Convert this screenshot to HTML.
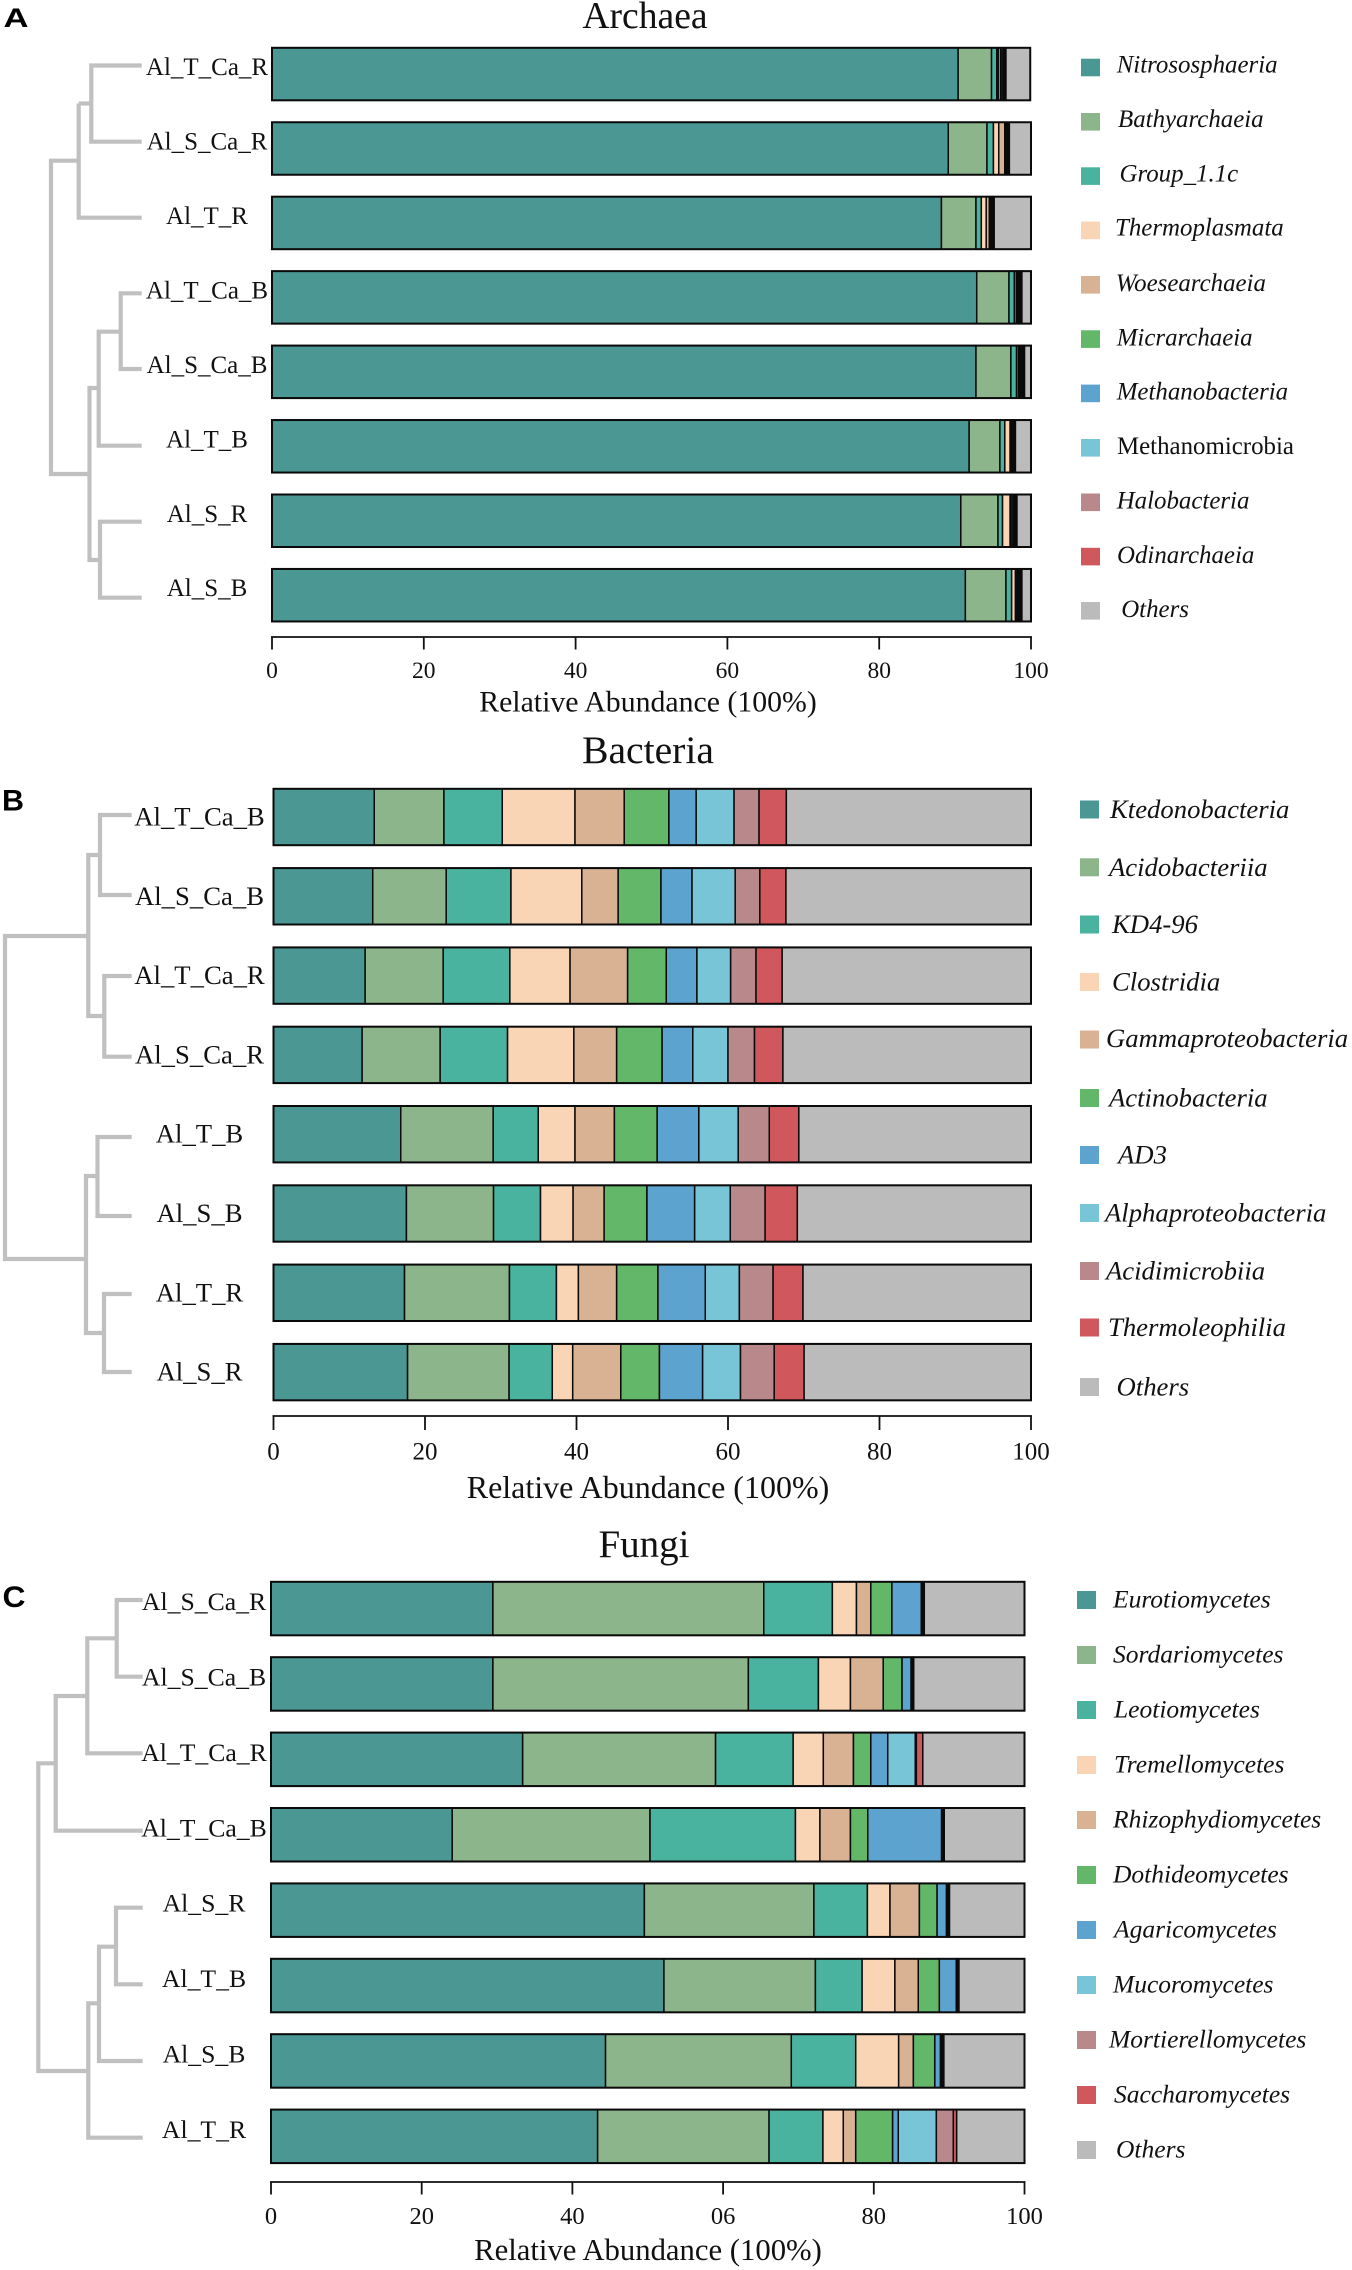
<!DOCTYPE html>
<html lang="en">
<head>
<meta charset="utf-8">
<title>Relative abundance of Archaea, Bacteria and Fungi</title>
<style>
html,body{margin:0;padding:0;background:#fff;}
svg{display:block;}
text{font-family:"Liberation Serif","DejaVu Serif",serif;fill:#111;}
.leg-a text{font-size:24.9px;font-style:italic;}
.leg-b text{font-size:26.7px;font-style:italic;}
.leg-c text{font-size:25.5px;font-style:italic;}
.tree path{fill:none;stroke:#c0c0c0;stroke-width:4.2;stroke-linejoin:miter;}
.letter{font-family:"Liberation Sans",Arial,sans-serif;font-weight:700;fill:#000;}
</style>
</head>
<body>
<svg id="figure" xmlns="http://www.w3.org/2000/svg" width="1352" height="2270" viewBox="0 0 1352 2270">
  <rect x="0" y="0" width="1352" height="2270" fill="#fff"/>

  <text class="letter" x="3.5" y="27" font-size="27" textLength="25" lengthAdjust="spacingAndGlyphs">A</text>
  <text class="letter" x="2" y="810.5" font-size="30" textLength="22" lengthAdjust="spacingAndGlyphs">B</text>
  <text class="letter" x="2.5" y="1607" font-size="30" textLength="23" lengthAdjust="spacingAndGlyphs">C</text>

  <text x="645" y="28" font-size="37.6" text-anchor="middle">Archaea</text>
  <text x="648" y="763" font-size="39.6" text-anchor="middle">Bacteria</text>
  <text x="644" y="1557" font-size="39" text-anchor="middle">Fungi</text>

  <g class="tree">
    <path d="M141.7 65.5H91.3V141.7H141.7"/>
    <path d="M91.3 103.5H78.7"/>
    <path d="M141.7 217.7H78.7V103.5"/>
    <path d="M78.7 160.7H51V474H89.5"/>
    <path d="M98.7 388H89.5V560H100"/>
    <path d="M141.7 293.3H120.7V369H141.7"/>
    <path d="M120.7 331.7H98.7V445.7H141.7"/>
    <path d="M141.7 521.7H100V597.7H141.7"/>
  </g>
  <g class="tree">
    <path d="M131.7 815H100V895H131.7"/>
    <path d="M131.7 976H104.3V1056.7H131.7"/>
    <path d="M100 855H88.3V1016H104.3"/>
    <path d="M88.3 936H5V1259H86"/>
    <path d="M131.7 1137H97.5V1216H131.7"/>
    <path d="M131.7 1294H104V1372H131.7"/>
    <path d="M97.5 1176H86V1333H104"/>
  </g>
  <g class="tree">
    <path d="M142.7 1600H116.7V1676.7H142.7"/>
    <path d="M116.7 1638.3H87.3V1753.3H142.7"/>
    <path d="M87.3 1696H55.7V1830.7H142.7"/>
    <path d="M55.7 1763.3H38.3V2071H88.3"/>
    <path d="M99 2003.3H88.3V2137.7H142.7"/>
    <path d="M116 1946.7H99V2061H142.7"/>
    <path d="M142.7 1907.7H116V1984.3H142.7"/>
  </g>

  <g id="panel-archaea"></g>
  <g id="panel-bacteria"></g>
  <g id="panel-fungi"></g>

  <g class="leg-a">
    <g><rect x="1081" y="58.7" width="19" height="17.6" fill="#4a9794"/><text x="1116.7" y="72.7">Nitrososphaeria</text></g>
    <g><rect x="1081" y="113" width="19" height="17.6" fill="#8db58c"/><text x="1118" y="127">Bathyarchaeia</text></g>
    <g><rect x="1081" y="167.3" width="19" height="17.6" fill="#4ab3a0"/><text x="1119.5" y="181.3">Group_1.1c</text></g>
    <g><rect x="1081" y="221.6" width="19" height="17.6" fill="#f9d5b5"/><text x="1115" y="235.6">Thermoplasmata</text></g>
    <g><rect x="1081" y="276" width="19" height="17.6" fill="#d9b294"/><text x="1115.7" y="291">Woesearchaeia</text></g>
    <g><rect x="1081" y="330.3" width="19" height="17.6" fill="#63b768"/><text x="1116.7" y="345.3">Micrarchaeia</text></g>
    <g><rect x="1081" y="384.6" width="19" height="17.6" fill="#5ca4cf"/><text x="1116.7" y="399.6">Methanobacteria</text></g>
    <g><rect x="1081" y="439" width="19" height="17.6" fill="#78c5d8"/><text x="1117" y="454" style="font-style:normal">Methanomicrobia</text></g>
    <g><rect x="1081" y="493.5" width="19" height="17.6" fill="#b9888b"/><text x="1116.7" y="508.5">Halobacteria</text></g>
    <g><rect x="1081" y="547.8" width="19" height="17.6" fill="#d0585c"/><text x="1117" y="562.8">Odinarchaeia</text></g>
    <g><rect x="1081" y="602" width="19" height="17.6" fill="#bbbbbb"/><text x="1121.2" y="617">Others</text></g>
  </g>

  <g class="leg-b">
    <g><rect x="1080" y="800.5" width="19" height="18" fill="#4a9794"/><text x="1110" y="818">Ktedonobacteria</text></g>
    <g><rect x="1080" y="858.3" width="19" height="18" fill="#8db58c"/><text x="1109" y="875.8">Acidobacteriia</text></g>
    <g><rect x="1080" y="915.5" width="19" height="18" fill="#4ab3a0"/><text x="1112" y="933">KD4-96</text></g>
    <g><rect x="1080" y="973" width="19" height="18" fill="#f9d5b5"/><text x="1112" y="990.5">Clostridia</text></g>
    <g><rect x="1080" y="1030.5" width="19" height="18" fill="#d9b294"/><text x="1106" y="1047">Gammaproteobacteria</text></g>
    <g><rect x="1080" y="1089" width="19" height="18" fill="#63b768"/><text x="1109" y="1106.5">Actinobacteria</text></g>
    <g><rect x="1080" y="1146" width="19" height="18" fill="#5ca4cf"/><text x="1118" y="1163.5">AD3</text></g>
    <g><rect x="1080" y="1204" width="19" height="18" fill="#78c5d8"/><text x="1105" y="1221.5">Alphaproteobacteria</text></g>
    <g><rect x="1080" y="1262" width="19" height="18" fill="#b9888b"/><text x="1106" y="1279.5">Acidimicrobiia</text></g>
    <g><rect x="1080" y="1318.5" width="19" height="18" fill="#d0585c"/><text x="1108" y="1336">Thermoleophilia</text></g>
    <g><rect x="1080" y="1378" width="19" height="18" fill="#bbbbbb"/><text x="1116.5" y="1395.5">Others</text></g>
  </g>

  <g class="leg-c">
    <g><rect x="1077" y="1591" width="19" height="18" fill="#4a9794"/><text x="1113" y="1607.5">Eurotiomycetes</text></g>
    <g><rect x="1077" y="1646" width="19" height="18" fill="#8db58c"/><text x="1113" y="1662.5">Sordariomycetes</text></g>
    <g><rect x="1077" y="1701" width="19" height="18" fill="#4ab3a0"/><text x="1114" y="1717.5">Leotiomycetes</text></g>
    <g><rect x="1077" y="1756" width="19" height="18" fill="#f9d5b5"/><text x="1114" y="1772.5">Tremellomycetes</text></g>
    <g><rect x="1077" y="1811" width="19" height="18" fill="#d9b294"/><text x="1113" y="1827.5">Rhizophydiomycetes</text></g>
    <g><rect x="1077" y="1866" width="19" height="18" fill="#63b768"/><text x="1113" y="1882.5">Dothideomycetes</text></g>
    <g><rect x="1077" y="1921" width="19" height="18" fill="#5ca4cf"/><text x="1114" y="1937.5">Agaricomycetes</text></g>
    <g><rect x="1077" y="1976" width="19" height="18" fill="#78c5d8"/><text x="1113" y="1992.5">Mucoromycetes</text></g>
    <g><rect x="1077" y="2031" width="19" height="18" fill="#b9888b"/><text x="1109" y="2047.5">Mortierellomycetes</text></g>
    <g><rect x="1077" y="2086" width="19" height="18" fill="#d0585c"/><text x="1114" y="2102.5">Saccharomycetes</text></g>
    <g><rect x="1077" y="2141" width="19" height="18" fill="#bbbbbb"/><text x="1116" y="2157.5">Others</text></g>
  </g>
</svg>

<script>
// Shared categories
const tickValues = [0, 20, 40, 60, 80, 100];
const standardTickLabels = ['0', '20', '40', '60', '80', '100'];
const fungiTickLabels = ['0', '20', '40', '06', '80', '100'];
const axisTitle = 'Relative Abundance (100%)';

// Archaea: sample order and taxon shares per sample
const archaeaSamples = ['Al_T_Ca_R', 'Al_S_Ca_R', 'Al_T_R', 'Al_T_Ca_B', 'Al_S_Ca_B', 'Al_T_B', 'Al_S_R', 'Al_S_B'];
const archaeaTaxa = ['Nitrososphaeria', 'Bathyarchaeia', 'Group_1.1c', 'Thermoplasmata', 'Woesearchaeia', 'Micrarchaeia', 'Methanobacteria', 'Methanomicrobia', 'Halobacteria', 'Odinarchaeia', 'Others'];
const archaeaAlTCaR = [90.4, 4.4, 0.7, 0.2, 0.3, 0.2, 0.2, 0.1, 0.1, 0.1, 3.2];
const archaeaAlSCaR = [89.1, 5.1, 0.85, 0.7, 0.8, 0.1, 0.15, 0.15, 0.1, 0.1, 2.85];
const archaeaAlTR = [88.2, 4.55, 0.7, 0.65, 0.4, 0.15, 0.15, 0.15, 0.1, 0.1, 4.85];
const archaeaAlTCaB = [92.85, 4.25, 0.7, 0.25, 0.1, 0.15, 0.15, 0.15, 0.1, 0.1, 1.2];
const archaeaAlSCaB = [92.75, 4.6, 0.75, 0.25, 0.1, 0.15, 0.15, 0.15, 0.15, 0.1, 0.85];
const archaeaAlTB = [91.85, 4.05, 0.65, 0.7, 0.05, 0.15, 0.15, 0.15, 0.1, 0.1, 2.05];
const archaeaAlSR = [90.75, 4.9, 0.6, 1.0, 0.05, 0.2, 0.2, 0.15, 0.15, 0.15, 1.85];
const archaeaAlSB = [91.35, 5.35, 0.75, 0.5, 0.05, 0.2, 0.15, 0.15, 0.15, 0.15, 1.2];

// Bacteria
const bacteriaSamples = ['Al_T_Ca_B', 'Al_S_Ca_B', 'Al_T_Ca_R', 'Al_S_Ca_R', 'Al_T_B', 'Al_S_B', 'Al_T_R', 'Al_S_R'];
const bacteriaTaxa = ['Ktedonobacteria', 'Acidobacteriia', 'KD4-96', 'Clostridia', 'Gammaproteobacteria', 'Actinobacteria', 'AD3', 'Alphaproteobacteria', 'Acidimicrobiia', 'Thermoleophilia', 'Others'];
const bacteriaAlTCaB = [13.3, 9.2, 7.7, 9.6, 6.5, 5.9, 3.6, 5.0, 3.3, 3.6, 32.3];
const bacteriaAlSCaB = [13.1, 9.7, 8.55, 9.35, 4.8, 5.65, 4.1, 5.7, 3.25, 3.45, 32.35];
const bacteriaAlTCaR = [12.1, 10.3, 8.8, 7.95, 7.6, 5.1, 4.05, 4.45, 3.35, 3.45, 32.85];
const bacteriaAlSCaR = [11.7, 10.3, 8.9, 8.75, 5.65, 6.0, 4.05, 4.65, 3.5, 3.75, 32.75];
const bacteriaAlTB = [16.8, 12.2, 5.95, 4.85, 5.2, 5.65, 5.5, 5.2, 4.1, 3.9, 30.65];
const bacteriaAlSB = [17.55, 11.5, 6.2, 4.3, 4.1, 5.65, 6.3, 4.7, 4.6, 4.25, 30.85];
const bacteriaAlTR = [17.3, 13.85, 6.2, 2.9, 5.05, 5.45, 6.25, 4.5, 4.45, 3.95, 30.1];
const bacteriaAlSR = [17.7, 13.4, 5.7, 2.7, 6.35, 5.1, 5.7, 5.0, 4.45, 3.95, 29.95];

// Fungi
const fungiSamples = ['Al_S_Ca_R', 'Al_S_Ca_B', 'Al_T_Ca_R', 'Al_T_Ca_B', 'Al_S_R', 'Al_T_B', 'Al_S_B', 'Al_T_R'];
const fungiTaxa = ['Eurotiomycetes', 'Sordariomycetes', 'Leotiomycetes', 'Tremellomycetes', 'Rhizophydiomycetes', 'Dothideomycetes', 'Agaricomycetes', 'Mucoromycetes', 'Mortierellomycetes', 'Saccharomycetes', 'Others'];
const fungiAlSCaR = [29.45, 35.95, 9.1, 3.2, 1.9, 2.8, 3.9, 0.1, 0.15, 0.15, 13.3];
const fungiAlSCaB = [29.45, 33.9, 9.3, 4.25, 4.35, 2.5, 1.2, 0.1, 0.1, 0.15, 14.7];
const fungiAlTCaR = [33.4, 25.6, 10.3, 4.0, 4.0, 2.3, 2.25, 3.65, 0.15, 0.85, 13.5];
const fungiAlTCaB = [24.05, 26.25, 19.3, 3.25, 4.05, 2.3, 9.8, 0.1, 0.1, 0.15, 10.65];
const fungiAlSR = [49.55, 22.5, 7.1, 3.0, 3.9, 2.35, 1.25, 0.1, 0.15, 0.15, 9.95];
const fungiAlTB = [52.15, 20.1, 6.2, 4.35, 3.1, 2.8, 2.25, 0.1, 0.1, 0.15, 8.7];
const fungiAlSB = [44.4, 24.65, 8.55, 5.7, 1.95, 2.85, 0.75, 0.15, 0.15, 0.15, 10.7];
const fungiAlTR = [43.35, 22.75, 7.15, 2.7, 1.65, 4.9, 0.75, 5.05, 2.25, 0.45, 9.0];

const archaeaRows = [archaeaAlTCaR, archaeaAlSCaR, archaeaAlTR, archaeaAlTCaB, archaeaAlSCaB, archaeaAlTB, archaeaAlSR, archaeaAlSB];
const bacteriaRows = [bacteriaAlTCaB, bacteriaAlSCaB, bacteriaAlTCaR, bacteriaAlSCaR, bacteriaAlTB, bacteriaAlSB, bacteriaAlTR, bacteriaAlSR];
const fungiRows = [fungiAlSCaR, fungiAlSCaB, fungiAlTCaR, fungiAlTCaB, fungiAlSR, fungiAlTB, fungiAlSB, fungiAlTR];

const palette = ['#4a9794', '#8db58c', '#4ab3a0', '#f9d5b5', '#d9b294', '#63b768', '#5ca4cf', '#78c5d8', '#b9888b', '#d0585c', '#bbbbbb'];
const SVG_NS = 'http://www.w3.org/2000/svg';

function svgEl(tag, attrs, parent) {
  const node = document.createElementNS(SVG_NS, tag);
  for (const key in attrs) node.setAttribute(key, attrs[key]);
  parent.appendChild(node);
  return node;
}

function drawPanel(cfg) {
  const root = document.getElementById(cfg.id);
  const xScale = function (v) { return cfg.x0 + (v / 100) * (cfg.x1 - cfg.x0); };
  const yScale = function (i) { return cfg.top + i * cfg.pitch; };

  cfg.rows.forEach(function (values, i) {
    const label = svgEl('text', {
      x: cfg.labelX, y: yScale(i) + cfg.barH / 2 + cfg.labelDy,
      'text-anchor': 'middle', 'font-size': cfg.labelSize
    }, root);
    label.textContent = cfg.samples[i];
    
    

    const group = svgEl('g', {}, root);
    
    

    let cumulative = 0;
    values.forEach(function (value, j) {
      const seg = svgEl('rect', {
        x: xScale(cumulative), y: yScale(i),
        width: xScale(cumulative + value) - xScale(cumulative), height: cfg.barH,
        fill: palette[j], stroke: '#0a0a0a', 'stroke-width': 1.5
      }, group);
      
      
      const tip = svgEl('title', {}, seg);
      tip.textContent = cfg.samples[i] + ' ' + cfg.taxa[j] + ': ' + value;
      cumulative += value;
    });

    const outline = svgEl('rect', {
      x: xScale(0), y: yScale(i),
      width: xScale(cumulative) - xScale(0), height: cfg.barH,
      fill: 'none', stroke: '#0a0a0a', 'stroke-width': 2
    }, group);
    
    
  });

  const axis = svgEl('g', {}, root);
  
  

  const axisLine = svgEl('line', {
    x1: xScale(tickValues[0]) - 1, x2: xScale(tickValues[tickValues.length - 1]) + 1,
    y1: cfg.axisY, y2: cfg.axisY, stroke: '#111', 'stroke-width': 1.8
  }, axis);
  
  

  tickValues.forEach(function (tick, k) {
    const mark = svgEl('line', {
      x1: xScale(tick), x2: xScale(tick),
      y1: cfg.axisY, y2: cfg.axisY + cfg.tickLen, stroke: '#111', 'stroke-width': 1.8
    }, axis);
    
    

    const text = svgEl('text', {
      x: xScale(tick), y: cfg.tickLabelY, 'text-anchor': 'middle', 'font-size': cfg.tickSize
    }, axis);
    text.textContent = cfg.tickLabels[k];
    
    
  });

  const title = svgEl('text', {
    x: cfg.titleX, y: cfg.titleY, 'text-anchor': 'middle', 'font-size': cfg.titleSize
  }, axis);
  title.textContent = axisTitle;
  
  
}

drawPanel({
  id: 'panel-archaea', samples: archaeaSamples, taxa: archaeaTaxa, rows: archaeaRows, tickLabels: standardTickLabels,
  x0: 272, x1: 1031, top: 47.8, pitch: 74.45, barH: 52.5,
  labelX: 207, labelDy: 1, labelSize: 25,
  axisY: 637, tickLen: 12.5, tickLabelY: 678, tickSize: 23.5,
  titleX: 648, titleY: 711.5, titleSize: 29.8
});
drawPanel({
  id: 'panel-bacteria', samples: bacteriaSamples, taxa: bacteriaTaxa, rows: bacteriaRows, tickLabels: standardTickLabels,
  x0: 273.5, x1: 1031, top: 788.8, pitch: 79.3, barH: 56.4,
  labelX: 199.5, labelDy: 8.5, labelSize: 26.7,
  axisY: 1416, tickLen: 14, tickLabelY: 1459.5, tickSize: 25,
  titleX: 648, titleY: 1498, titleSize: 32
});
drawPanel({
  id: 'panel-fungi', samples: fungiSamples, taxa: fungiTaxa, rows: fungiRows, tickLabels: fungiTickLabels,
  x0: 271, x1: 1024.5, top: 1581.8, pitch: 75.4, barH: 53.5,
  labelX: 204, labelDy: 1.5, labelSize: 25.7,
  axisY: 2182, tickLen: 12.5, tickLabelY: 2224, tickSize: 24.5,
  titleX: 648, titleY: 2260, titleSize: 30.7
});
</script>
</body>
</html>
